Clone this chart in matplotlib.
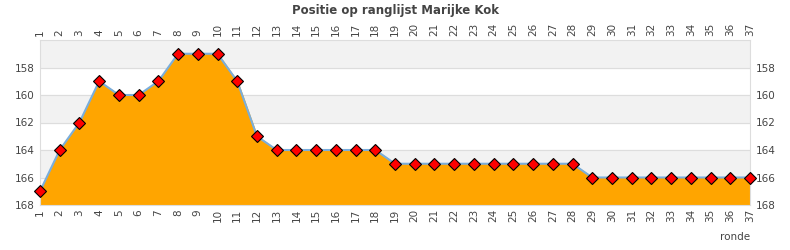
import matplotlib
matplotlib.use('Agg')
import matplotlib.pyplot as plt

# Positie per ronde
rondes = list(range(1, 38))
positie = [167, 164, 162, 159, 160, 160, 159, 157, 157, 157, 159, 163,
           164, 164, 164, 164, 164, 164, 165, 165, 165, 165, 165, 165,
           165, 165, 165, 165, 166, 166, 166, 166, 166, 166, 166, 166, 166]
y_ticks = [158, 160, 162, 164, 166, 168]

fig = plt.figure(figsize=(7.9, 2.5), dpi=100)
ax = fig.add_axes([40/790, 45/250, 710/790, 165/250])

# afwisselende banden
for i, lo in enumerate(range(156, 168, 2)):
    if i % 2 == 0:
        ax.axhspan(lo, lo + 2, color='#f2f2f2', zorder=0)
for t in y_ticks[:-1]:
    ax.axhline(t, color='#dddddd', lw=0.8, zorder=0.5)

ax.fill_between(rondes, positie, 168, color='#FFA500', zorder=1)
ax.plot(rondes, positie, color='#7aaedc', lw=1.5, zorder=2)
ax.plot(rondes, positie, 'D', color='red', mec='black', mew=0.8, ms=6.5,
        zorder=3, clip_on=False)

ax.set_xlim(1, 37)
ax.set_ylim(168, 156)
ax.set_xticks(rondes)
ax.set_yticks(y_ticks)
ax.tick_params(axis='x', which='both', top=True, labeltop=True, bottom=True,
               labelbottom=True, rotation=90, labelsize=7.5, colors='#444444',
               length=0, pad=3)
ax.tick_params(axis='y', which='both', left=True, right=True, labelleft=True,
               labelright=True, labelsize=7.5, colors='#444444', length=0, pad=4)
for s in ax.spines.values():
    s.set_color('#dddddd')

fig.text(0.5, 0.985, 'Positie op ranglijst Marijke Kok', ha='center', va='top',
         fontsize=8.5, fontweight='bold', color='#444444')
fig.text(750/790, 0.03, 'ronde', ha='right', va='bottom', fontsize=7.5,
         color='#444444')

fig.savefig('out.png', dpi=100)
plt.close()
